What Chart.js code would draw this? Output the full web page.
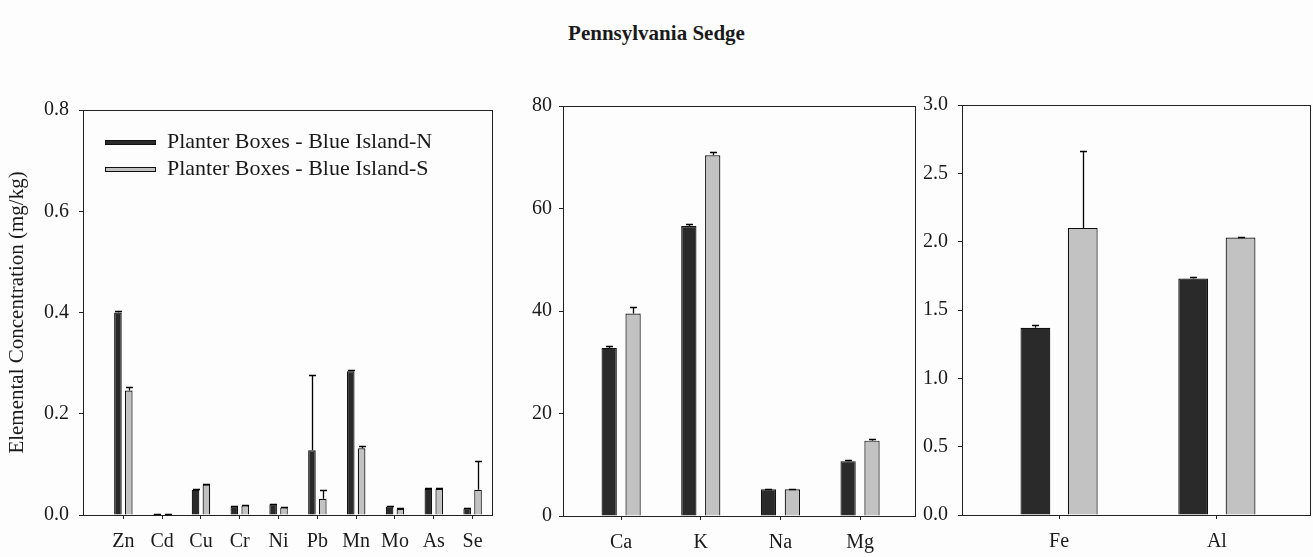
<!DOCTYPE html>
<html>
<head>
<meta charset="utf-8">
<title>Pennsylvania Sedge</title>
<script src="https://cdn.jsdelivr.net/npm/chart.js@4.4.1/dist/chart.umd.min.js"></script>
<style>
  html, body { margin: 0; padding: 0; background: #fdfdfd; }
  #fig { position: relative; width: 1313px; height: 557px; overflow: hidden;
         font-family: "Liberation Serif", "Times New Roman", serif; color: #1a1a1a; }
  #title { position: absolute; left: 0; top: 20px; width: 1313px; text-align: center;
           font-weight: bold; font-size: 21px; line-height: 26px; }
  .panel { position: absolute; top: 0; height: 557px; }
  canvas { display: block; }
</style>
</head>
<body>
<div id="fig">
  <div id="title">Pennsylvania Sedge</div>
  <div class="panel" style="left:0px;width:500px"><canvas id="trace" width="500" height="557"></canvas></div>
  <div class="panel" style="left:500px;width:420px"><canvas id="major" width="420" height="557"></canvas></div>
  <div class="panel" style="left:920px;width:393px"><canvas id="metal" width="393" height="557"></canvas></div>
</div>
<script>
// Series names
const seriesNorth = 'Planter Boxes - Blue Island-N';
const seriesSouth = 'Planter Boxes - Blue Island-S';

// Trace elements (mg/kg)
const traceCats = ['Zn', 'Cd', 'Cu', 'Cr', 'Ni', 'Pb', 'Mn', 'Mo', 'As', 'Se'];
const traceNorth    = [0.400, 0.002, 0.050, 0.017, 0.021, 0.128, 0.284, 0.017, 0.052, 0.013];
const traceNorthErr = [0.003, 0.000, 0.001, 0.000, 0.000, 0.149, 0.002, 0.000, 0.001, 0.000];
const traceSouth    = [0.246, 0.001, 0.060, 0.019, 0.015, 0.032, 0.132, 0.012, 0.052, 0.050];
const traceSouthErr = [0.007, 0.000, 0.002, 0.001, 0.001, 0.017, 0.004, 0.001, 0.001, 0.056];

// Major cations (mg/kg)
const majorCats = ['Ca', 'K', 'Na', 'Mg'];
const majorNorth    = [32.8, 56.6, 5.2, 10.7];
const majorNorthErr = [0.4, 0.3, 0.1, 0.2];
const majorSouth    = [39.5, 70.4, 5.2, 14.7];
const majorSouthErr = [1.3, 0.6, 0.1, 0.3];

// Fe and Al (mg/kg)
const metalCats = ['Fe', 'Al'];
const metalNorth    = [1.37, 1.73];
const metalNorthErr = [0.02, 0.01];
const metalSouth    = [2.10, 2.03];
const metalSouthErr = [0.56, 0.005];

const SERIF = "'Liberation Serif', 'Times New Roman', serif";
const INK = '#1a1a1a';
const DARK = '#2a2a2a';
const LIGHT = '#c2c2c2';

// Box around each plotting area
const framePlugin = {
  id: 'frame',
  afterDraw(chart) {
    const { ctx, chartArea: a } = chart;
    ctx.save();
    ctx.strokeStyle = '#222';
    ctx.lineWidth = 1;
    ctx.strokeRect(Math.round(a.left) + 0.5, Math.round(a.top) + 0.5,
                   Math.round(a.right - a.left), Math.round(a.bottom - a.top));
    ctx.restore();
  }
};

// One-sided (upper) error bars with caps
const errorBarPlugin = {
  id: 'errorBars',
  afterDatasetsDraw(chart) {
    const { ctx } = chart;
    const yScale = chart.scales.y;
    ctx.save();
    ctx.strokeStyle = '#000';
    ctx.lineWidth = 1.3;
    chart.data.datasets.forEach((ds, di) => {
      const meta = chart.getDatasetMeta(di);
      meta.data.forEach((bar, j) => {
        const v = ds.data[j].y;
        const e = ds.errors[j] || 0;
        const x = Math.round(bar.x) + 0.5;
        const y0 = yScale.getPixelForValue(v);
        const y1 = Math.round(yScale.getPixelForValue(v + e)) + 0.5;
        ctx.beginPath();
        ctx.moveTo(x, y0);
        ctx.lineTo(x, y1);
        ctx.moveTo(x - 3.5, y1);
        ctx.lineTo(x + 3.5, y1);
        ctx.stroke();
      });
    });
    ctx.restore();
  }
};

// Legend drawn inside the plotting area
const boxLegendPlugin = {
  id: 'boxLegend',
  afterDraw(chart, args, opts) {
    if (!opts || !opts.display) return;
    const { ctx, chartArea: a } = chart;
    ctx.save();
    ctx.font = '22px ' + SERIF;
    ctx.textBaseline = 'middle';
    ctx.textAlign = 'left';
    chart.data.datasets.forEach((ds, i) => {
      const cy = a.top + opts.firstRow + i * opts.rowGap;
      const sx = a.left + opts.swatchLeft;
      ctx.fillStyle = ds.backgroundColor;
      ctx.fillRect(sx, Math.round(cy - 2.5), opts.swatchWidth, 5);
      ctx.strokeStyle = '#111';
      ctx.lineWidth = 1;
      ctx.strokeRect(sx + 0.5, Math.round(cy - 2.5) + 0.5, opts.swatchWidth - 1, 4);
      ctx.fillStyle = INK;
      ctx.fillText(ds.label, a.left + opts.textLeft, cy);
    });
    ctx.restore();
  }
};

function makePanel(id, cats, north, northErr, south, southErr, p) {
  const pts = vals => cats.map((c, i) => ({ x: i, y: vals[i] }));
  const barStyle = {
    borderColor: '#111',
    borderWidth: 1.2,
    borderSkipped: 'bottom',
    categoryPercentage: p.catPct,
    barPercentage: p.barPct
  };
  return new Chart(document.getElementById(id), {
    type: 'bar',
    data: {
      datasets: [
        Object.assign({ label: seriesNorth, data: pts(north), errors: northErr, backgroundColor: DARK }, barStyle),
        Object.assign({ label: seriesSouth, data: pts(south), errors: southErr, backgroundColor: LIGHT }, barStyle)
      ]
    },
    options: {
      responsive: false,
      animation: false,
      layout: { padding: { top: p.top, right: p.right, left: 0, bottom: 0 } },
      plugins: {
        legend: { display: false },
        tooltip: { enabled: false },
        boxLegend: p.legend || { display: false }
      },
      scales: {
        x: {
          type: 'linear',
          offset: false,
          min: p.xMin,
          max: p.xMax,
          afterBuildTicks: s => { s.ticks = cats.map((c, i) => ({ value: i })); },
          afterFit: s => { s.height = 557 - p.bottom; },
          ticks: {
            callback: v => cats[v],
            autoSkip: false,
            maxRotation: 0,
            padding: 11,
            color: INK,
            font: { family: SERIF, size: 20 }
          },
          grid: { offset: false, drawOnChartArea: false, drawTicks: true, tickLength: 4, color: '#222' },
          border: { display: true, color: '#222', width: 1 }
        },
        y: {
          type: 'linear',
          min: 0,
          max: p.yMax,
          afterFit: s => { s.width = p.yWidth; },
          ticks: {
            stepSize: p.yStep,
            callback: v => v.toFixed(p.decimals),
            padding: p.yPad,
            color: INK,
            font: { family: SERIF, size: 20 }
          },
          grid: { drawOnChartArea: false, drawTicks: true, tickLength: 4, color: '#222' },
          border: { display: true, color: '#222', width: 1 },
          title: p.yTitle ? {
            display: true,
            text: p.yTitle,
            color: INK,
            font: { family: SERIF, size: 21 },
            padding: { top: 5, bottom: 0 }
          } : { display: false }
        }
      }
    },
    plugins: [framePlugin, errorBarPlugin, boxLegendPlugin]
  });
}

makePanel('trace', traceCats, traceNorth, traceNorthErr, traceSouth, traceSouthErr, {
  top: 110, bottom: 515, right: 8, yWidth: 83, yPad: 10,
  xMin: -1.04, xMax: 9.5, yMax: 0.8, yStep: 0.2, decimals: 1,
  catPct: 0.56, barPct: 0.7,
  yTitle: 'Elemental Concentration (mg/kg)',
  legend: { display: true, firstRow: 32, rowGap: 27, swatchLeft: 22, swatchWidth: 51, textLeft: 84 }
});

makePanel('major', majorCats, majorNorth, majorNorthErr, majorSouth, majorSouthErr, {
  top: 106, bottom: 516, right: 5, yWidth: 63, yPad: 7,
  xMin: -0.73, xMax: 3.69, yMax: 80, yStep: 20, decimals: 0,
  catPct: 0.6, barPct: 0.64
});

makePanel('metal', metalCats, metalNorth, metalNorthErr, metalSouth, metalSouthErr, {
  top: 105, bottom: 515, right: 3, yWidth: 42, yPad: 10,
  xMin: -0.615, xMax: 1.59, yMax: 3.0, yStep: 0.5, decimals: 1,
  catPct: 0.6, barPct: 0.63
});
</script>
</body>
</html>
